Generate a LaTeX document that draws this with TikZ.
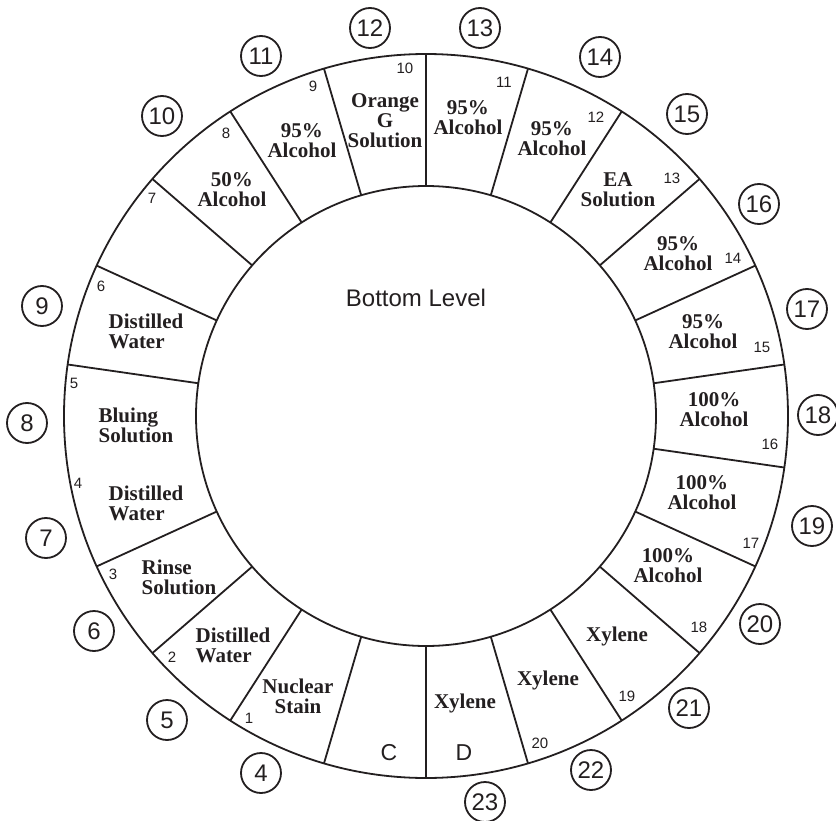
\documentclass[tikz,border=0pt]{standalone}
\usepackage{fontspec}
\setmainfont{Liberation Serif}
\setsansfont{Liberation Sans}
\usepackage{tikz}
\usepackage{xcolor}

\definecolor{ink}{RGB}{35,31,32}

\begin{document}
\begin{tikzpicture}[x=1pt, y=1pt, line width=1.8pt, draw=ink, text=ink,
  every node/.style={inner sep=0pt},
  station/.style={font=\fontsize{21}{20}\selectfont\bfseries, align=center},
  num/.style={font=\sffamily\fontsize{15}{15}\selectfont},
  letter/.style={font=\sffamily\fontsize{23}{23}\selectfont},
  spot/.style={circle, draw, line width=1.8pt, minimum size=40pt, font=\sffamily\fontsize{24}{24}\selectfont}]

  \useasboundingbox (-426,-404) rectangle (410,416);

  % Ring
  \draw (0,0) circle (362pt);
  \draw (0,0) circle (230pt);
  \draw (90:230) -- (90:362);
  \draw (73.636:230) -- (73.636:362);
  \draw (57.273:230) -- (57.273:362);
  \draw (40.909:230) -- (40.909:362);
  \draw (24.545:230) -- (24.545:362);
  \draw (8.182:230) -- (8.182:362);
  \draw (-8.182:230) -- (-8.182:362);
  \draw (-24.545:230) -- (-24.545:362);
  \draw (-40.909:230) -- (-40.909:362);
  \draw (-57.273:230) -- (-57.273:362);
  \draw (-73.636:230) -- (-73.636:362);
  \draw (-90:230) -- (-90:362);
  \draw (-106.364:230) -- (-106.364:362);
  \draw (-122.727:230) -- (-122.727:362);
  \draw (-139.091:230) -- (-139.091:362);
  \draw (-155.455:230) -- (-155.455:362);
  \draw (171.818:230) -- (171.818:362);
  \draw (155.455:230) -- (155.455:362);
  \draw (139.091:230) -- (139.091:362);
  \draw (122.727:230) -- (122.727:362);
  \draw (106.364:230) -- (106.364:362);

  \node[font=\sffamily\fontsize{24}{24}\selectfont] (title) at (-10,118) {Bottom Level};

  % Stations
  \node[station] (t11) at (42,298) {95\%\\Alcohol};
  \node[station] (t12) at (126,277) {95\%\\Alcohol};
  \node[station] (t13) at (192,226) {EA\\Solution};
  \node[station] (t14) at (252,162) {95\%\\Alcohol};
  \node[station] (t15) at (277,84) {95\%\\Alcohol};
  \node[station] (t16) at (288,6) {100\%\\Alcohol};
  \node[station] (t17) at (276,-77) {100\%\\Alcohol};
  \node[station] (t18) at (242,-150) {100\%\\Alcohol};
  \node[station] (t19) at (191,-220) {Xylene};
  \node[station] (t20) at (122,-264) {Xylene};
  \node[station] (tD) at (39,-287) {Xylene};
  \node[station] (t1) at (-128,-280) {Nuclear\\Stain};
  \node[station, align=left] (t2) at (-193,-229) {Distilled\\Water};
  \node[station, align=left] (t3) at (-247,-161) {Rinse\\Solution};
  \node[station, align=left] (t4) at (-280,-87) {Distilled\\Water};
  \node[station, align=left] (t5) at (-290,-9) {Bluing\\Solution};
  \node[station, align=left] (t6) at (-280,85) {Distilled\\Water};
  \node[station] (t8) at (-194,226) {50\%\\Alcohol};
  \node[station] (t9) at (-124,275) {95\%\\Alcohol};
  \node[station] (t10) at (-41,295) {Orange\\G\\Solution};

  % Slot numbers
  \node[num] (n1) at (-177,-302) {1};
  \node[num] (n2) at (-254,-241) {2};
  \node[num] (n3) at (-313,-158) {3};
  \node[num] (n4) at (-348,-67) {4};
  \node[num] (n5) at (-352,33) {5};
  \node[num] (n6) at (-325,130) {6};
  \node[num] (n7) at (-274,218) {7};
  \node[num] (n8) at (-200,283) {8};
  \node[num] (n9) at (-113,330) {9};
  \node[num] (n10) at (-21,348) {10};
  \node[num] (n11) at (78,334) {11};
  \node[num] (n12) at (170,299) {12};
  \node[num] (n13) at (246,238) {13};
  \node[num] (n14) at (307,158) {14};
  \node[num] (n15) at (336,69) {15};
  \node[num] (n16) at (344,-28) {16};
  \node[num] (n17) at (325,-127) {17};
  \node[num] (n18) at (273,-211) {18};
  \node[num] (n19) at (201,-280) {19};
  \node[num] (n20) at (114,-327) {20};
  \node[letter] (nD) at (38,-337) {D};
  \node[letter] (nC) at (-37,-337) {C};

  % Positions
  \node[spot] (c4) at (-165,-357) {4};
  \node[spot] (c5) at (-259,-304) {5};
  \node[spot] (c6) at (-332,-215) {6};
  \node[spot] (c7) at (-380,-122) {7};
  \node[spot] (c8) at (-399,-7) {8};
  \node[spot] (c9) at (-384,110) {9};
  \node[spot] (c10) at (-264,300) {10};
  \node[spot] (c11) at (-165,360) {11};
  \node[spot] (c12) at (-56,388) {12};
  \node[spot] (c13) at (54,388) {13};
  \node[spot] (c14) at (174,359) {14};
  \node[spot] (c15) at (261,302) {15};
  \node[spot] (c16) at (333,212) {16};
  \node[spot] (c17) at (381,107) {17};
  \node[spot] (c18) at (392,1) {18};
  \node[spot] (c19) at (386,-110) {19};
  \node[spot] (c20) at (334,-208) {20};
  \node[spot] (c21) at (263,-292) {21};
  \node[spot] (c22) at (165,-354) {22};
  \node[spot] (c23) at (59,-386) {23};
\end{tikzpicture}
\end{document}
